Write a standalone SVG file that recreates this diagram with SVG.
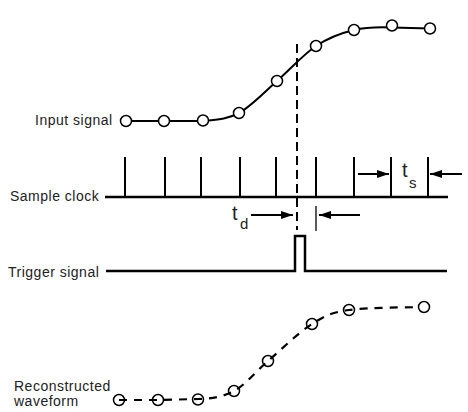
<svg xmlns="http://www.w3.org/2000/svg" width="468" height="412" viewBox="0 0 468 412">
<defs>
<style>
.lbl{font-family:"Liberation Sans",Arial,sans-serif;font-size:14px;letter-spacing:0.5px;fill:#222}
.sym{font-family:"Liberation Sans",Arial,sans-serif;fill:#222}
.sig{fill:none;stroke:#000;stroke-width:2}
.base{fill:none;stroke:#000;stroke-width:2.5}
.tick{stroke:#000;stroke-width:2}
.dash{fill:none;stroke:#000;stroke-width:2;stroke-dasharray:9 5}
.rdash{fill:none;stroke:#000;stroke-width:2.2;stroke-dasharray:8 7}
.dot{fill:#fff;stroke:#000;stroke-width:1.5}
.rdot{fill:none;stroke:#000;stroke-width:1.5}
.arr{stroke:#000;stroke-width:2;fill:none;marker-end:url(#ah)}
</style>
<marker id="ah" viewBox="0 0 12 8" refX="12" refY="4" markerWidth="12" markerHeight="8" markerUnits="userSpaceOnUse" orient="auto">
<path d="M0,0 L12,4 L0,8 Z" fill="#000"/>
</marker>
</defs>
<rect width="468" height="412" fill="#fff"/>

<g id="connectors">
<line class="dash" x1="297" y1="44" x2="297" y2="230"/>
<line class="arr" x1="358" y1="174" x2="389" y2="174"/>
<line class="arr" x1="462" y1="174" x2="430" y2="174"/>
<line class="arr" x1="251" y1="215" x2="293" y2="215"/>
<line class="arr" x1="360" y1="215" x2="319" y2="215"/>
<line x1="316" y1="206" x2="316" y2="231" stroke="#000" stroke-width="1.3"/>
</g>

<g id="input-signal">
<text class="lbl" x="35" y="125">Input signal</text>
<path class="sig" d="M126,121 L203,121 C215.5,119.7 226.7,119.7 239,113 C251.3,106.3 264.2,92.2 277,81 C289.8,69.8 303.2,54.5 316,46 C328.8,37.5 341.3,33 354,30 C366.7,27 379.3,27 392,27.5 L430,28.5"/>
<circle class="dot" cx="126" cy="121" r="5.5"/>
<circle class="dot" cx="164" cy="121" r="5.5"/>
<circle class="dot" cx="203" cy="120.5" r="5.5"/>
<circle class="dot" cx="239" cy="113" r="5.5"/>
<circle class="dot" cx="277" cy="81" r="5.5"/>
<circle class="dot" cx="316" cy="46" r="5.5"/>
<circle class="dot" cx="354" cy="30" r="5.5"/>
<circle class="dot" cx="392" cy="25.5" r="5.5"/>
<circle class="dot" cx="430" cy="28.5" r="5.5"/>
</g>

<g id="sample-clock">
<text class="lbl" x="10" y="201">Sample clock</text>
<line class="base" x1="105" y1="197" x2="448" y2="197"/>
<line class="tick" x1="125" y1="157" x2="125" y2="197"/>
<line class="tick" x1="165" y1="157" x2="165" y2="197"/>
<line class="tick" x1="201" y1="157" x2="201" y2="197"/>
<line class="tick" x1="240" y1="157" x2="240" y2="197"/>
<line class="tick" x1="276" y1="157" x2="276" y2="197"/>
<line class="tick" x1="316" y1="157" x2="316" y2="197"/>
<line class="tick" x1="354" y1="157" x2="354" y2="197"/>
<line class="tick" x1="391" y1="157" x2="391" y2="197"/>
<line class="tick" x1="428" y1="157" x2="428" y2="197"/>
<text class="sym" x="402" y="177" font-size="20">t</text>
<text class="sym" x="409" y="188" font-size="15">s</text>
<text class="sym" x="232" y="220" font-size="20">t</text>
<text class="sym" x="240" y="229" font-size="15">d</text>
</g>

<g id="trigger-signal">
<text class="lbl" x="8" y="277">Trigger signal</text>
<path class="base" d="M106,271 H295 V236 H305 V271 H447"/>
</g>

<g id="reconstructed-waveform">
<text class="lbl" x="14" y="391">Reconstructed</text>
<text class="lbl" x="14" y="406">waveform</text>
<path class="rdash" d="M119,400 L158,400 L198,399 C210.7,398.8 222.3,397.3 234,391 C245.7,384.7 255,372.2 268,361 C281,349.8 298.5,332.5 312,324 C325.5,315.5 330.3,312.8 349,310 C367.7,307.2 411.5,307.5 424,307"/>
<circle class="rdot" cx="119" cy="400" r="5.5"/>
<circle class="rdot" cx="158" cy="400" r="5.5"/>
<circle class="rdot" cx="198" cy="399.5" r="5.5"/>
<circle class="rdot" cx="234" cy="391" r="5.5"/>
<circle class="rdot" cx="268" cy="361" r="5.5"/>
<circle class="rdot" cx="312" cy="324" r="5.5"/>
<circle class="rdot" cx="349" cy="310" r="5.5"/>
<circle class="dot" cx="424" cy="307" r="5.5"/>
</g>
</svg>
